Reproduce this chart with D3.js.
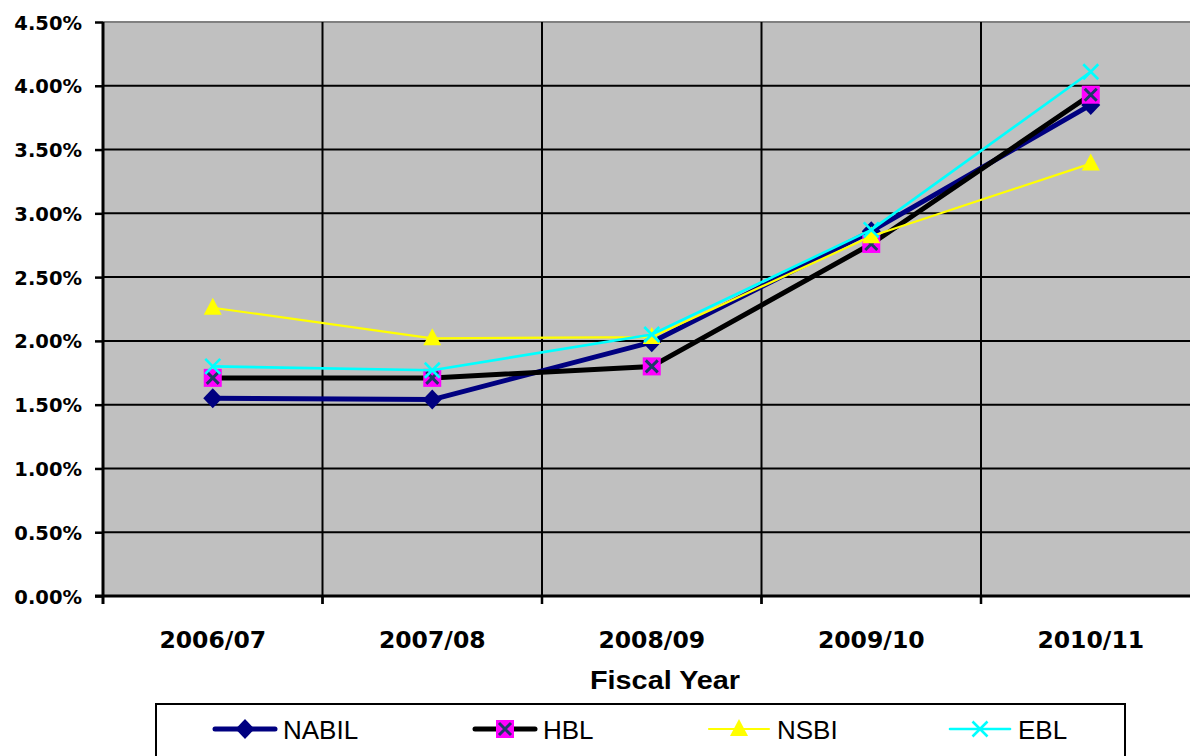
<!DOCTYPE html>
<html>
<head>
<meta charset="utf-8">
<script src="https://cdn.jsdelivr.net/npm/d3@7"></script>
<style>
  html, body { margin: 0; padding: 0; background: #fff; }
  svg { display: block; }
</style>
</head>
<body>
<svg id="chart" width="1190" height="756"></svg>
<script>
// Fiscal years on the category axis
const categories = ["2006/07", "2007/08", "2008/09", "2009/10", "2010/11"];

// Ratio per bank, in percent
const nabil = [1.55, 1.54, 1.99, 2.86, 3.85];
const hbl   = [1.71, 1.71, 1.80, 2.76, 3.93];
const nsbi  = [2.26, 2.02, 2.03, 2.82, 3.39];
const ebl   = [1.80, 1.77, 2.05, 2.87, 4.11];

const seriesNames = ["NABIL", "HBL", "NSBI", "EBL"];
const yTicks = [0, 0.5, 1, 1.5, 2, 2.5, 3, 3.5, 4, 4.5];

const series = [
  { name: seriesNames[0], values: nabil, color: "#000080", width: 5,   marker: "diamond" },
  { name: seriesNames[1], values: hbl,   color: "#000000", width: 5,   marker: "square" },
  { name: seriesNames[2], values: nsbi,  color: "#FFFF00", width: 2.2, marker: "triangle" },
  { name: seriesNames[3], values: ebl,   color: "#00FFFF", width: 2.6, marker: "cross" }
];

const svg = d3.select("#chart");
const plot = { left: 103, right: 1200.5, top: 22, bottom: 596 };

const x = d3.scaleBand().domain(categories).range([plot.left, plot.right]).padding(0);
const y = d3.scaleLinear().domain([0, 4.5]).range([plot.bottom, plot.top]);
const cx = c => x(c) + x.bandwidth() / 2;

// Plot background
svg.append("rect")
  .attr("x", plot.left).attr("y", plot.top)
  .attr("width", plot.right - plot.left).attr("height", plot.bottom - plot.top)
  .attr("fill", "#C0C0C0");

// Horizontal gridlines
svg.append("g").selectAll("line")
  .data(yTicks.filter(t => t > 0 && t < 4.5))
  .join("line")
  .attr("x1", plot.left).attr("x2", plot.right)
  .attr("y1", d => y(d)).attr("y2", d => y(d))
  .attr("stroke", "#000").attr("stroke-width", 2);

// Top border of the plot area
svg.append("line")
  .attr("x1", plot.left).attr("x2", plot.right)
  .attr("y1", y(4.5)).attr("y2", y(4.5))
  .attr("stroke", "#808080").attr("stroke-width", 2);

// Vertical gridlines at category boundaries
svg.append("g").selectAll("line")
  .data(categories.slice(1))
  .join("line")
  .attr("x1", d => x(d)).attr("x2", d => x(d))
  .attr("y1", plot.top).attr("y2", plot.bottom + 8)
  .attr("stroke", "#000").attr("stroke-width", 2);

// Y axis
const yAxis = d3.axisLeft(y)
  .tickValues(yTicks)
  .tickSize(8)
  .tickPadding(13)
  .tickFormat(d => d.toFixed(2) + "%");
const gy = svg.append("g").attr("transform", `translate(${plot.left},0)`).call(yAxis);
gy.select(".domain").attr("stroke", "#000").attr("stroke-width", 3)
  .attr("d", `M0,${plot.top}V${plot.bottom}`);
gy.selectAll(".tick line").attr("stroke", "#000").attr("stroke-width", 2.5);
gy.selectAll(".tick text")
  .attr("fill", "#000")
  .style("font-family", "'DejaVu Sans', Verdana, sans-serif")
  .style("font-weight", "bold")
  .style("font-size", "19.5px")
  .attr("dy", "0.36em");

// X axis
const xAxis = d3.axisBottom(x).tickSize(0).tickPadding(0);
const gx = svg.append("g").attr("transform", `translate(0,${plot.bottom})`).call(xAxis);
gx.select(".domain").remove();
gx.selectAll(".tick text")
  .attr("fill", "#000")
  .attr("y", 52).attr("dy", 0)
  .style("font-family", "'DejaVu Sans', Verdana, sans-serif")
  .style("font-weight", "bold")
  .style("font-size", "23.5px");
svg.append("line")
  .attr("x1", plot.left - 8).attr("x2", plot.right)
  .attr("y1", plot.bottom).attr("y2", plot.bottom)
  .attr("stroke", "#000").attr("stroke-width", 3);
svg.append("g").selectAll("line")
  .data(categories.slice(1))
  .join("line")
  .attr("x1", d => x(d)).attr("x2", d => x(d))
  .attr("y1", plot.bottom).attr("y2", plot.bottom + 8)
  .attr("stroke", "#000").attr("stroke-width", 2.5);
svg.append("line")
  .attr("x1", plot.left).attr("x2", plot.left)
  .attr("y1", plot.bottom).attr("y2", plot.bottom + 8)
  .attr("stroke", "#000").attr("stroke-width", 3);

// Axis title
svg.append("text")
  .attr("x", 665).attr("y", 689)
  .attr("text-anchor", "middle")
  .attr("textLength", 150).attr("lengthAdjust", "spacingAndGlyphs")
  .style("font-family", "'Liberation Sans', Arial, sans-serif")
  .style("font-weight", "bold")
  .style("font-size", "25px")
  .text("Fiscal Year");

// Marker drawing
function drawMarker(g, type, px, py) {
  if (type === "diamond") {
    g.append("path")
      .attr("d", `M${px},${py - 10}L${px + 9.5},${py}L${px},${py + 10}L${px - 9.5},${py}Z`)
      .attr("fill", "#000080");
  } else if (type === "square") {
    g.append("rect")
      .attr("x", px - 9).attr("y", py - 9).attr("width", 18).attr("height", 18)
      .attr("fill", "#FF00FF");
    g.append("path")
      .attr("d", `M${px - 6},${py - 6}L${px + 6},${py + 6}M${px + 6},${py - 6}L${px - 6},${py + 6}`)
      .attr("stroke", "#1F3A66").attr("stroke-width", 3);
  } else if (type === "triangle") {
    g.append("path")
      .attr("d", `M${px},${py - 10}L${px + 9},${py + 7}L${px - 9},${py + 7}Z`)
      .attr("fill", "#FFFF00");
  } else if (type === "cross") {
    g.append("path")
      .attr("d", `M${px - 7.5},${py - 7.5}L${px + 7.5},${py + 7.5}M${px + 7.5},${py - 7.5}L${px - 7.5},${py + 7.5}`)
      .attr("stroke", "#00FFFF").attr("stroke-width", 2.6);
  }
}

// Series lines and markers, drawn in series order
const line = d3.line().x((d, i) => cx(categories[i])).y(d => y(d));
series.forEach(s => {
  const g = svg.append("g");
  g.append("path")
    .attr("d", line(s.values))
    .attr("fill", "none")
    .attr("stroke", s.color)
    .attr("stroke-width", s.width)
    .attr("stroke-linejoin", "round");
  s.values.forEach((v, i) => drawMarker(g, s.marker, cx(categories[i]), y(v)));
});

// Legend
const legend = svg.append("g");
legend.append("rect")
  .attr("x", 156).attr("y", 704).attr("width", 969).attr("height", 70)
  .attr("fill", "#fff").attr("stroke", "#000").attr("stroke-width", 2);
const legendX = [215, 475, 709, 950];
series.forEach((s, i) => {
  const lx = legendX[i], ly = 729;
  const g = legend.append("g");
  g.append("line")
    .attr("x1", lx).attr("x2", lx + 60)
    .attr("y1", ly).attr("y2", ly)
    .attr("stroke", s.color).attr("stroke-width", s.width)
    .attr("stroke-linecap", "round");
  drawMarker(g, s.marker, lx + 30, ly);
  g.append("text")
    .attr("x", lx + 68).attr("y", ly + 10)
    .style("font-family", "'Liberation Sans', Arial, sans-serif")
    .style("font-size", "26px")
    .attr("fill", "#000")
    .text(s.name);
});
</script>
</body>
</html>
